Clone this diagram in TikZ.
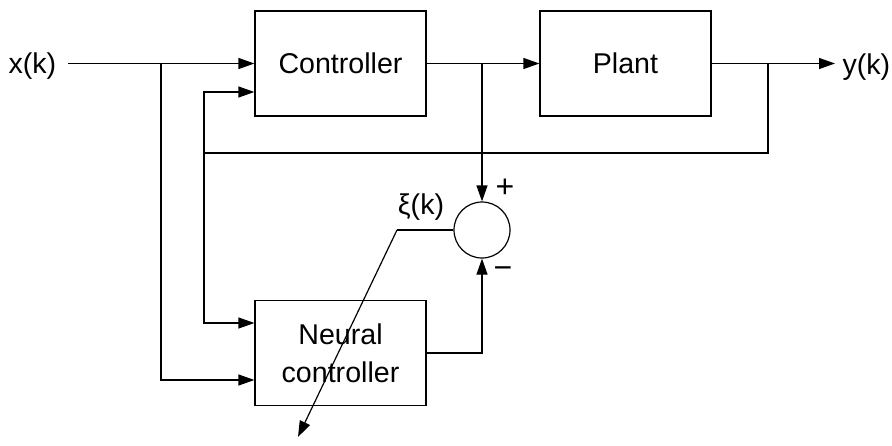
\documentclass[tikz,border=0pt]{standalone}
\usepackage{fontspec}
\setmainfont{Liberation Sans}
\usetikzlibrary{arrows.meta}
\begin{document}
\begin{tikzpicture}[x=1pt,y=-1pt, line width=1.2pt,
  blk/.style={draw, minimum width=171pt, minimum height=105pt, inner sep=0pt, align=center, font=\fontsize{28.6}{38}\selectfont},
  lbl/.style={font=\fontsize{28.6}{34}\selectfont, inner sep=0pt},
  sgn/.style={font=\fontsize{32}{36}\selectfont, inner sep=0pt},
  sumnode/.style={draw, circle, minimum size=56pt, inner sep=0pt},
  arr/.style={-{Triangle[length=16pt,width=11pt]}}]
\useasboundingbox (0,0) rectangle (892,445);
% blocks
\node[blk] (ctrl) at (340.5,63.5) {Controller};
\node[blk] (plant) at (625.5,63.5) {Plant};
\node[blk] (neural) at (340.5,353) {Neural\\controller};
\node[sumnode] (sum) at (482,230) {};
% labels
\node[lbl, anchor=base west] (xlab) at (8,73) {x(k)};
\node[lbl, anchor=base west] (ylab) at (842,74) {y(k)};
\node[lbl, anchor=base] (xilab) at (421,214) {ξ(k)};
\node[sgn] (plus) at (505,188) {+};
\node[sgn] (minus) at (503,273) {−};
% coordinates
\coordinate (xin) at (68,63.5);
\coordinate (b1) at (161,63.5);
\coordinate (b3) at (482,63.5);
\coordinate (b2) at (768,63.5);
\coordinate (yout) at (835,63.5);
\coordinate (fb) at (204,153);
\coordinate (xi) at (397,230);
\coordinate (xiend) at (298,437);
% connectors
\draw[arr] (xin) -- (ctrl.west);
\draw[arr] (b1) |- ([yshift=-27pt]neural.west);
\draw[arr] (ctrl.east) -- (plant.west);
\draw[arr] (plant.east) -- (yout);
\draw (b2) |- (fb);
\draw[arr] (fb) |- ([yshift=-28.5pt]ctrl.west);
\draw[arr] (fb) |- ([yshift=30pt]neural.west);
\draw[arr] (b3) -- (sum.north);
\draw[arr] (neural.east) -| (sum.south);
\draw (sum.west) -- (xi);
\draw[arr] (xi) -- (xiend);
\end{tikzpicture}
\end{document}
